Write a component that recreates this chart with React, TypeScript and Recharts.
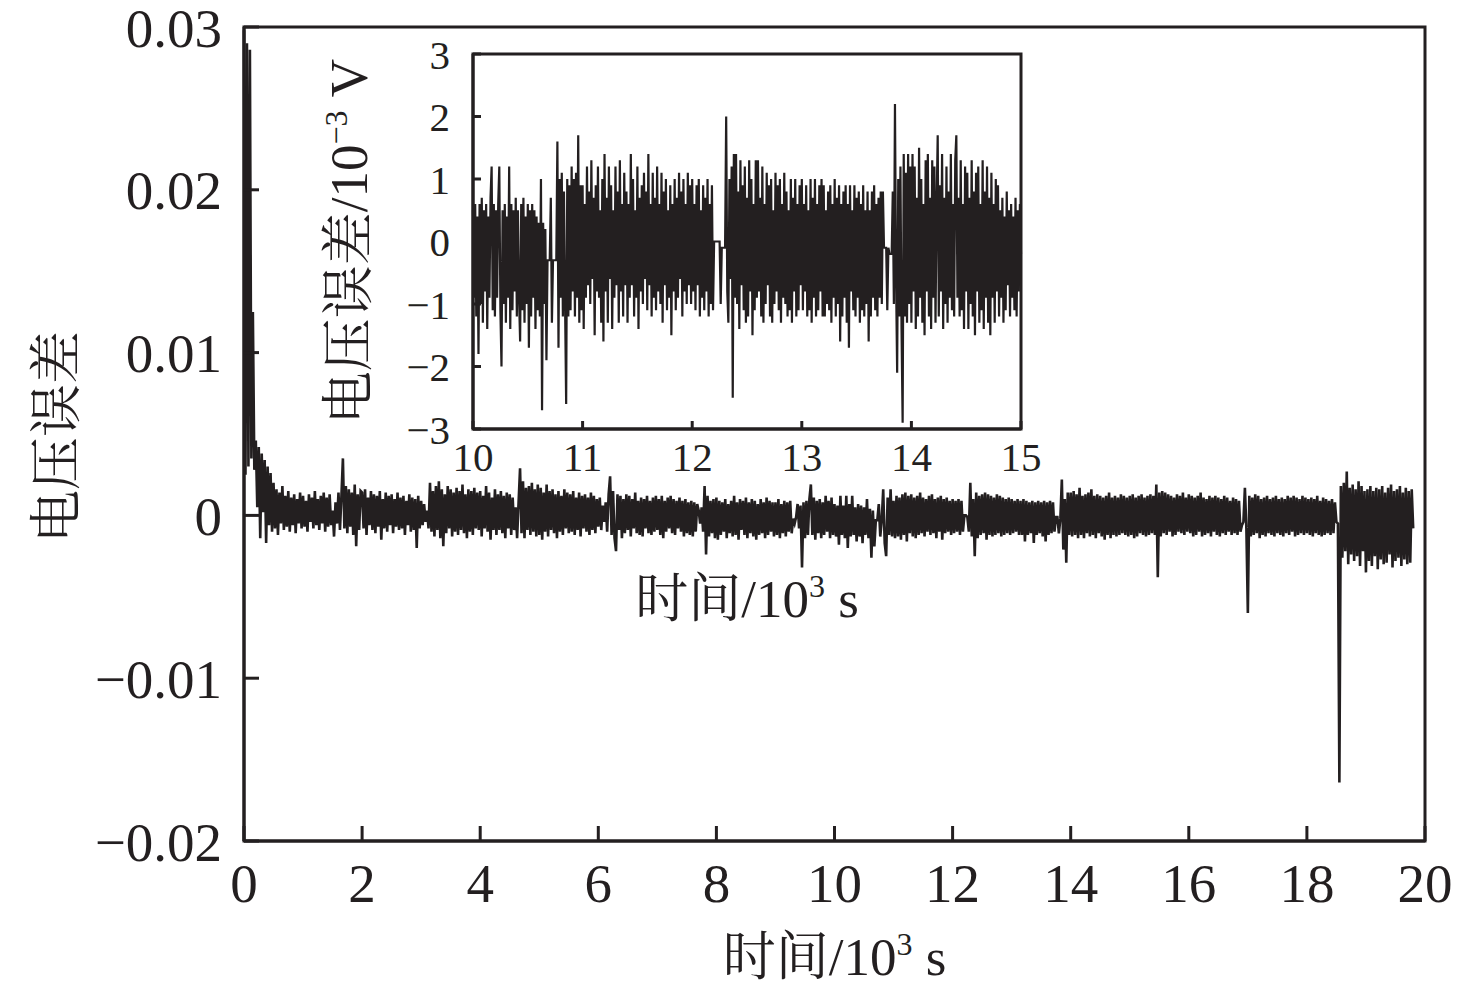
import React from 'react';
import { LineChart, Line, XAxis, YAxis, ReferenceArea } from 'recharts';

// ---------- data ----------
// main trace: sampled every 0.025 x10^3 s (one row = 1 x10^3 s), values in 1e-4 V
const MAIN_STEP = 0.025;
const mainValues: number[] = [
  298, 25, 290, 30, 286, 35, 125, 28, 46, 5, 42, -14, 38, 2, 34, -17, 30, -6, 26, -10,
  20, -8, 16, -12, 14, -5, 18, -9, 12, -7, 15, -10, 11, -6, 13, -11, 10, -5, 14, -8,
  12, -7, 9, -10, 13, -4, 11, -8, 15, -6, 10, -9, 12, -5, 14, -10, 11, -7, 13, -6,
  3, -13, 8, -5, 14, -9, 12, 35, -8, 18, -11, 16, -7, 14, -12, 19, -19, 13, -9, 15,
  14, -8, 16, -12, 11, -6, 15, -9, 13, -11, 12, -7, 15, -15, 10, -8, 14, -10, 12, -6,
  13, -11, 10, -7, 14, -9, 11, -8, 12, -12, 9, -6, 13, -10, 11, -9, 10, -20, 12, -8,
  9, -6, 7, -4, 3, -8, 20, -10, 15, -13, 18, -9, 21, -14, 16, -19, 13, -11, 18, -8,
  16, -13, 14, -10, 17, -12, 15, -9, 19, -11, 13, -14, 16, -10, 15, -12, 17, -8, 14, -9,
  15, -13, 12, -8, 18, -10, 14, -15, 11, -9, 16, -12, 13, -9, 15, -11, 12, -14, 14, -8,
  13, -12, 11, -9, 5, -14, 8, 29, -11, 21, -14, 17, -9, 18, -12, 20, -10, 16, -13, 19,
  -12, 17, -15, 14, -10, 19, -13, 15, -9, 16, -11, 13, -14, 15, -10, 12, -12, 16, -8, 14,
  -11, 13, -10, 15, -12, 11, -9, 14, -13, 12, -8, 13, -10, 11, -12, 14, -9, 12, -11, 10,
  -7, 11, -9, 6, -4, 8, -10, 13, 24, -12, 15, -14, -22, 13, -9, 12, -14, 10, -11, 13,
  -9, 12, -13, 10, -8, 14, -11, 9, -12, 11, -13, 10, -8, 12, -11, 9, -12, 11, -10, 12,
  -9, 10, -12, 12, -14, 9, -10, 11, -8, 12, -11, 10, -12, 9, -8, 11, -10, 9, -13, 10,
  -11, 8, -12, 9, -13, 8, -10, 7, 3, -5, 5, -10, 18, -24, 12, -13, 9, -11, 10, -14,
  11, -15, 9, -12, 8, -10, 10, -14, 7, -11, 9, -13, 12, -12, 8, -15, 10, -9, 9, -12,
  11, -14, 8, -11, 10, -13, 9, -15, 7, -12, 10, -11, 8, -14, 11, -12, 9, -10, 8, -13,
  8, -12, 10, -14, 7, -11, 9, -13, 8, -10, 9, -11, -2, -5, -1, 7, -8, 6, -32, 8,
  -14, 9, -12, 10, 19, -12, 11, -15, 9, -11, 10, -14, 8, -12, 12, -10, 9, -14, 11, -12,
  7, -13, 6, -18, 12, -12, 6, -14, 12, -20, 7, -13, 12, -12, 5, -16, 7, -13, 6, -17,
  5, -12, 10, -14, 4, -26, 3, -19, -3, -3, 7, -13, -3, 16, -17, -25, 11, -12, 16, -13,
  9, -14, 12, -13, 11, -15, 13, -12, 14, -16, 12, -11, 13, -13, 11, -14, 12, -12, 14, -11,
  11, -13, 10, -10, 12, -12, 13, -11, 10, -14, 11, -10, 12, -15, 10, -11, 11, -10, 9, -12,
  10, -11, 9, -10, 10, -12, 9, -10, 0, 0, -1, -10, 20, -13, 10, -25, 14, -14, 12, -12,
  13, -11, 14, -15, 13, -12, 12, -13, 11, -12, 13, -11, 12, -13, 11, -12, 10, -11, 11, -12,
  10, -11, 9, -10, 10, -12, 9, -12, 10, -16, 9, -12, 8, -11, 9, -17, 8, -12, 9, -11,
  8, -13, 9, -16, 8, -12, 9, -11, 8, -10, -1, -1, -11, -2, 22, -21, 10, -29, 14, -12,
  14, -13, 15, -12, 13, -14, 17, -12, 12, -14, 13, -11, 14, -13, 16, -12, 12, -14, 13, -11,
  12, -13, 11, -15, 12, -12, 14, -14, 11, -12, 12, -13, 11, -12, 13, -11, 12, -12, 11, -13,
  12, -12, 13, -14, 11, -13, 12, -11, 13, -12, 11, -13, 12, -12, 13, -11, 12, -12, 19, -38,
  14, -13, 15, -11, 14, -12, 13, -10, 12, -13, 11, -12, 13, -10, 12, -11, 14, -12, 11, -10,
  13, -11, 12, -13, 11, -12, 12, -10, 14, -13, 11, -12, 10, -11, 12, -13, 11, -10, 12, -12,
  11, -13, 10, -11, 12, -12, 11, -10, 9, -12, 11, -11, 10, -12, 9, -10, -6, -4, 17, -8,
  -60, 12, -13, 11, -12, 13, -11, 12, -14, 10, -12, 11, -13, 12, -11, 10, -12, 11, -13, 12,
  -11, 10, -12, 11, -13, 10, -11, 12, -12, 11, -10, 12, -13, 11, -12, 10, -11, 12, -12, 11,
  -11, 10, -12, 11, -13, 10, -11, 12, -12, 9, -13, 11, -12, 10, -11, 9, -12, 10, -11, 8,
  -4, -5, -164, 18, -26, 20, -22, 27, -30, 17, -24, 19, -28, 16, -25, 21, -31, 18, -22, 15,
  -35, 16, -28, 18, -31, 15, -25, 17, -33, 16, -27, 18, -30, 14, -29, 17, -24, 19, -32, 15,
  -28, 16, -26, 18, -31, 14, -27, 17, -30, 15, -29, 16, -8,
];

// inset trace: 10–15 x10^3 s, sampled every 0.01 x10^3 s (one row = 0.2 x10^3 s),
// values in 0.1 x10^-3 V
const INSET_START = 10;
const INSET_STEP = 0.01;
const insetValues: number[] = [
  5, -9, 6, -12, 4, -18, 6, -10, 7, -13, 5, -8, 6, -14, 4, -9, 7, 12, -11, 6,
  -12, 5, -9, 6, 12, -11, -20, 5, -10, 6, -13, 4, -9, 12, -14, 6, -11, 5, -8, 7,
  -12, 5, -9, -16, 6, -11, 7, -13, 4, -10, 6, -17, 5, -12, 6, -9, 5, -14, 4, -11,
  3, -12, 10, -27, 3, -10, 2, -19, -3, -3, -3, 7, -13, -3, -3, -3, -3, 16, -17, 10,
  -9, 11, -12, 8, -10, -26, 10, -12, 9, -11, 12, -8, 10, -12, 11, -9, 17, -13, 9, -11,
  9, -14, 6, -9, 12, -7, 8, -10, 13, -6, 7, -15, 9, -8, 12, -9, 5, -13, 10, -16,
  14, -8, 7, -13, 12, -6, 9, -14, 5, -9, 12, -7, 8, -13, 13, -8, 6, -12, 11, -7,
  8, -13, 6, -9, 14, -7, 10, -12, 5, -9, 12, -14, 7, -8, 9, -10, 11, -6, 8, -11,
  14, -7, 6, -12, 11, -9, 7, -11, 12, -8, 6, -10, 11, -13, 8, -7, 10, -11, 5, -9,
  9, -15, 6, -8, 10, -11, 7, -9, 11, -6, 8, -12, 10, -8, 6, -10, 11, -7, 9, -10,
  10, -8, 6, -11, 9, -7, 10, -12, 5, -9, 9, -11, 7, -8, 10, -12, 6, -10, 9, -11,
  0, 0, 0, 0, 0, 0, -10, -1, -1, -1, -1, 20, -8, -13, 10, -6, 12, -25, 14, -9,
  14, -10, 8, -14, 13, -7, 9, -11, 12, -13, 7, -12, 13, -8, 10, -15, 6, -11, 13, -9,
  13, -8, 7, -12, 12, -13, 6, -10, 11, -7, 9, -12, 10, -13, 5, -10, 11, -8, 9, -11,
  10, -13, 6, -9, 11, -10, 8, -12, 5, -11, 10, -13, 7, -8, 10, -12, 6, -11, 9, -7,
  10, -11, 6, -8, 9, -12, 5, -11, 10, -13, 7, -9, 10, -12, 6, -11, 9, -8, 10, -12,
  9, -12, 5, -10, 8, -11, 9, -13, 6, -9, 10, -12, 7, -10, 9, -16, 6, -12, 8, -9,
  9, -13, 6, -17, 9, -8, 5, -11, 9, -12, 7, -9, 8, -13, 6, -11, 9, -12, 5, -10,
  8, -16, 5, -12, 8, -9, 9, -11, 6, -12, 7, -9, 8, -10, 8, -1, -1, -1, -11, -1,
  -2, -2, -2, 8, -10, 22, -6, -21, 10, -12, 12, -14, -29, 14, -12, 11, -13, 14, -10, 12,
  -13, 14, -8, 12, -14, 7, -12, 15, -9, 10, -13, 6, -15, 13, -8, 14, -12, 7, -14, 13,
  -9, 12, -13, 6, 17, -12, 9, -8, 14, -14, 7, -10, 12, -13, 8, -9, 14, -11, 6, -12,
  13, 17, -9, 7, -12, 13, -11, 6, -14, 12, -8, 11, -14, 7, -10, 13, -12, 8, -15, 11,
  -8, 12, -13, 6, -11, 13, -14, 8, -9, 12, -13, 7, -15, 11, -9, 6, -13, 10, -8, 9,
  -12, 5, -9, 7, -13, 4, -11, 8, -7, 5, -12, 6, -9, 4, -11, 7, -12, 5, -8, 6,
  -2,
];

const mainXTicks = [0, 2, 4, 6, 8, 10, 12, 14, 16, 18, 20];
const mainYTicks = [-0.02, -0.01, 0, 0.01, 0.02, 0.03];
const insetXTicks = [10, 11, 12, 13, 14, 15];
const insetYTicks = [-3, -2, -1, 0, 1, 2, 3];

const mainData = mainValues.map((v, i) => ({ t: +(i * MAIN_STEP).toFixed(4), v: v * 1e-4 }));
const insetData = insetValues.map((v, i) => ({ t: +(INSET_START + i * INSET_STEP).toFixed(4), v: v / 10 }));

// ---------- style ----------
const INK = '#231f20';
const FONT = "'Liberation Serif', 'Times New Roman', 'Noto Serif CJK SC', 'Noto Sans CJK SC', serif";

const fmtMainY = (v: number) =>
  Math.abs(v) < 1e-9 ? '0' : (v < 0 ? '\u2212' : '') + Math.abs(v).toFixed(2);
const fmtInsetY = (v: number) => (v < 0 ? '\u2212' + Math.abs(v) : String(v));

const MainXTitle = (props: any) => {
  const vb = props.viewBox || { x: 244, y: 841, width: 1181, height: 147 };
  const cx = vb.x + vb.width / 2;
  const cy = vb.y + 134;
  return (
    <text x={cx} y={cy} textAnchor="middle" fontSize={53} fontFamily={FONT} fill={INK}>
      时间/10<tspan dy={-20} fontSize={32}>3</tspan>
      <tspan dy={20}>{' s'}</tspan>
    </text>
  );
};

const MainYTitle = (props: any) => {
  const vb = props.viewBox || { x: 0, y: 27, width: 244, height: 814 };
  const cx = vb.x + 75;
  const cy = vb.y + vb.height / 2 + 3;
  return (
    <text x={cx} y={cy} transform={`rotate(-90 ${cx} ${cy})`} textAnchor="middle" fontSize={53} fontFamily={FONT} fill={INK}>
      电压误差
    </text>
  );
};

const InsetXTitle = (props: any) => {
  const vb = props.viewBox || { x: 173, y: 429, width: 548, height: 60 };
  const cx = vb.x + vb.width / 2;
  const cy = vb.y + 188;
  return (
    <text x={cx} y={cy} textAnchor="middle" fontSize={53} fontFamily={FONT} fill={INK}>
      时间/10<tspan dy={-20} fontSize={32}>3</tspan>
      <tspan dy={20}>{' s'}</tspan>
    </text>
  );
};

const InsetYTitle = (props: any) => {
  const vb = props.viewBox || { x: 0, y: 54, width: 173, height: 375 };
  const cx = vb.x + vb.width - 106;
  const cy = vb.y + vb.height / 2;
  return (
    <text x={cx} y={cy} transform={`rotate(-90 ${cx} ${cy})`} textAnchor="middle" fontSize={53} fontFamily={FONT} fill={INK}>
      电压误差/10<tspan dy={-20} fontSize={32}>{'\u22123'}</tspan>
      <tspan dy={20}>{' V'}</tspan>
    </text>
  );
};

const axisLine = { stroke: INK, strokeWidth: 3 };
const tickLine = { stroke: INK, strokeWidth: 3 };

export default function App() {
  return (
    <div style={{ position: 'absolute', left: 0, top: 0, width: 1476, height: 988, background: '#fff' }}>
      <div style={{ position: 'absolute', left: 0, top: 0 }}>
        <LineChart width={1476} height={988} data={mainData} margin={{ top: 27, right: 51, bottom: 0, left: 0 }}>
          <XAxis
            dataKey="t"
            type="number"
            domain={[0, 20]}
            ticks={mainXTicks}
            interval={0}
            height={147}
            axisLine={axisLine}
            tickLine={tickLine}
            tickSize={-15}
            tickMargin={37}
            tick={{ fill: INK, fontSize: 55, fontFamily: FONT }}
            label={{ content: MainXTitle }}
          />
          <YAxis
            type="number"
            domain={[-0.02, 0.03]}
            ticks={mainYTicks}
            interval={0}
            width={244}
            axisLine={axisLine}
            tickLine={tickLine}
            tickSize={-15}
            tickMargin={37}
            tickFormatter={fmtMainY}
            tick={{ fill: INK, fontSize: 55, fontFamily: FONT }}
            label={{ content: MainYTitle }}
            allowDataOverflow
          />
          <ReferenceArea x1={0} x2={20} y1={-0.02} y2={0.03} fill="none" fillOpacity={0} stroke={INK} strokeWidth={3} />
          <Line type="linear" dataKey="v" stroke={INK} strokeWidth={2.6} dot={false} isAnimationActive={false} />
        </LineChart>
      </div>
      <div style={{ position: 'absolute', left: 300, top: 0 }}>
        <LineChart width={760} height={640} data={insetData} margin={{ top: 54, right: 39, bottom: 151, left: 0 }}>
          <XAxis
            dataKey="t"
            type="number"
            domain={[10, 15]}
            ticks={insetXTicks}
            interval={0}
            height={60}
            axisLine={axisLine}
            tickLine={tickLine}
            tickSize={-8}
            tickMargin={21}
            tick={{ fill: INK, fontSize: 41, fontFamily: FONT }}
            label={{ content: InsetXTitle }}
          />
          <YAxis
            type="number"
            domain={[-3, 3]}
            ticks={insetYTicks}
            interval={0}
            width={173}
            axisLine={axisLine}
            tickLine={tickLine}
            tickSize={-8}
            tickMargin={31}
            tickFormatter={fmtInsetY}
            tick={{ fill: INK, fontSize: 41, fontFamily: FONT }}
            label={{ content: InsetYTitle }}
            allowDataOverflow
          />
          <ReferenceArea x1={10} x2={15} y1={-3} y2={3} fill="none" fillOpacity={0} stroke={INK} strokeWidth={3} />
          <Line type="linear" dataKey="v" stroke={INK} strokeWidth={2.2} dot={false} isAnimationActive={false} />
        </LineChart>
      </div>
    </div>
  );
}
